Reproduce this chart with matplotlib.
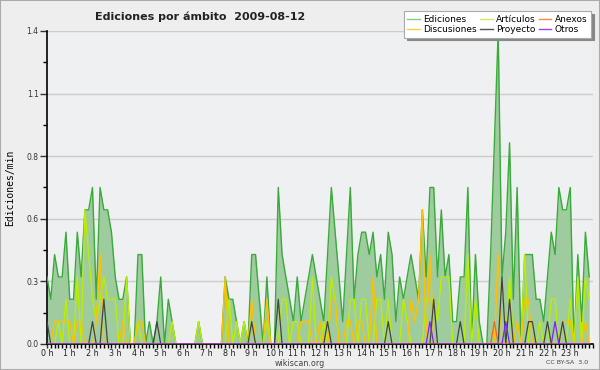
import numpy as np
import matplotlib
matplotlib.use("Agg")
import matplotlib.pyplot as plt

# ================================ Data ================================ #
# edits per minute, one value per 10-minute slot (144 slots = 24 h)

n_slots = 144
hour_labels = ["%d h" % h for h in range(24)]

ediciones = [
    0.3, 0.2, 0.4, 0.3, 0.3, 0.5, 0.2, 0.2, 0.5, 0.3, 0.6, 0.6,
    0.7, 0.2, 0.7, 0.6, 0.6, 0.5, 0.3, 0.2, 0.2, 0.3, 0.0, 0.0,
    0.4, 0.4, 0.0, 0.1, 0.0, 0.1, 0.3, 0.0, 0.2, 0.1, 0.0, 0.0,
    0.0, 0.0, 0.0, 0.0, 0.1, 0.0, 0.0, 0.0, 0.0, 0.0, 0.0, 0.3,
    0.2, 0.2, 0.1, 0.0, 0.1, 0.0, 0.4, 0.4, 0.2, 0.0, 0.3, 0.0,
    0.0, 0.7, 0.4, 0.3, 0.2, 0.1, 0.3, 0.1, 0.2, 0.3, 0.4, 0.3,
    0.2, 0.1, 0.4, 0.7, 0.5, 0.3, 0.1, 0.4, 0.7, 0.2, 0.4, 0.5,
    0.5, 0.4, 0.5, 0.3, 0.4, 0.2, 0.5, 0.4, 0.1, 0.3, 0.2, 0.3,
    0.4, 0.3, 0.2, 0.6, 0.3, 0.7, 0.7, 0.3, 0.6, 0.3, 0.4, 0.1,
    0.1, 0.3, 0.3, 0.7, 0.0, 0.4, 0.1, 0.0, 0.0, 0.4, 0.9, 1.4,
    0.3, 0.5, 0.9, 0.2, 0.7, 0.0, 0.4, 0.4, 0.4, 0.2, 0.2, 0.1,
    0.3, 0.5, 0.4, 0.7, 0.6, 0.6, 0.7, 0.0, 0.4, 0.1, 0.5, 0.3,
]

# sparse series: slot -> value, everything else is 0
articulos_pts = {
    3: 0.1, 5: 0.2, 8: 0.3, 10: 0.6, 11: 0.4, 12: 0.2, 13: 0.1, 14: 0.2,
    15: 0.3, 16: 0.2, 17: 0.2, 18: 0.2, 21: 0.3, 24: 0.1, 33: 0.1, 40: 0.1,
    48: 0.2, 50: 0.1, 52: 0.1, 58: 0.1, 62: 0.2, 63: 0.2, 65: 0.1, 66: 0.1,
    70: 0.3, 73: 0.1, 75: 0.3, 76: 0.2, 80: 0.2, 81: 0.2, 83: 0.2, 84: 0.2,
    87: 0.2, 88: 0.2, 90: 0.2, 94: 0.2, 95: 0.1, 100: 0.2, 101: 0.2, 102: 0.2,
    103: 0.1, 104: 0.3, 105: 0.3, 106: 0.3, 111: 0.4, 113: 0.2, 122: 0.3,
    126: 0.4, 130: 0.1, 133: 0.2, 134: 0.2, 138: 0.2, 140: 0.3, 142: 0.3,
    143: 0.2,
}
discusiones_pts = {
    2: 0.1, 3: 0.1, 4: 0.1, 5: 0.1, 6: 0.1, 8: 0.1, 9: 0.1, 13: 0.1, 14: 0.4,
    20: 0.1, 24: 0.1, 25: 0.1, 47: 0.3, 54: 0.2, 58: 0.2, 67: 0.1, 68: 0.1,
    69: 0.1, 72: 0.1, 75: 0.2, 76: 0.2, 79: 0.1, 80: 0.1, 82: 0.1, 83: 0.1,
    86: 0.3, 96: 0.2, 97: 0.1, 98: 0.2, 99: 0.6, 101: 0.4, 119: 0.4,
    124: 0.1, 126: 0.2, 127: 0.2, 136: 0.1, 137: 0.1, 138: 0.1, 142: 0.1,
}
proyecto_pts = {
    0: 0.1, 12: 0.1, 15: 0.2, 29: 0.1, 54: 0.1, 61: 0.2, 74: 0.1, 90: 0.1,
    102: 0.2, 109: 0.1, 120: 0.3, 122: 0.2, 127: 0.1, 128: 0.1, 132: 0.1,
    136: 0.1,
}
anexos_pts = {118: 0.1}
otros_pts = {101: 0.1, 121: 0.1, 134: 0.1}


def expand(pts):
    arr = np.zeros(n_slots)
    for k, v in pts.items():
        arr[k] = v
    return arr


x = np.arange(n_slots)
ediciones = np.array(ediciones)
articulos = expand(articulos_pts)
discusiones = expand(discusiones_pts)
proyecto = expand(proyecto_pts)
anexos = expand(anexos_pts)
otros = expand(otros_pts)

# ================================ Figure ================================ #

bg = "#eeeeee"
fig = plt.figure(figsize=(6, 3.7), dpi=100, facecolor=bg)
fig.patches.append(plt.Rectangle((0, 0), 1, 1, transform=fig.transFigure,
                                 fill=False, edgecolor="#aaaaaa", lw=1.5))
ax = fig.add_axes([0.0783, 0.0703, 0.91, 0.846])
ax.set_facecolor("#eff0f1")

ax.fill_between(x, 0, ediciones, color="#9ecc9e", lw=0, zorder=2)
ax.plot(x, ediciones, color="#3aaa3a", lw=1.0, zorder=3)
ax.plot(x, articulos, color="#bbee00", lw=1.0, zorder=4)
ax.plot(x, discusiones, color="#ffc000", lw=1.0, zorder=5)
ax.plot(x, proyecto, color="#444444", lw=0.9, zorder=6)
ax.plot(x, anexos, color="#ff6020", lw=0.9, zorder=7)
ax.plot(x, otros, color="#8020ff", lw=0.9, zorder=8)

ymax = ediciones.max()
ax.set_xlim(0, n_slots)
ax.set_ylim(0, ymax)

major = np.linspace(0, ymax, 6)
ax.set_yticks(major)
ax.set_yticklabels(["%.1f" % v for v in major])
ax.set_yticks((major[:-1] + major[1:]) / 2, minor=True)
ax.yaxis.grid(True, color="#cccccc", lw=1, zorder=0)
ax.set_axisbelow(True)

ax.set_xticks(np.arange(0, n_slots, 6))
ax.set_xticklabels(hour_labels)
ax.set_xticks(np.arange(0, n_slots + 1, 1), minor=True)

for side in ["top", "right"]:
    ax.spines[side].set_visible(False)
ax.spines["left"].set_linewidth(1.2)
ax.spines["bottom"].set_linewidth(1.2)
ax.tick_params(axis="y", which="major", length=5, width=1, labelsize=5.5,
               pad=1, colors="#333333")
ax.tick_params(axis="y", which="minor", length=3, width=1)
ax.tick_params(axis="x", which="major", length=3, width=1, labelsize=5.8,
               pad=0.5, colors="#333333")
ax.tick_params(axis="x", which="minor", length=3, width=1)
for lab in ax.get_xticklabels():
    lab.set_color("#222222")

ax.set_ylabel("Ediciones/min", fontsize=7, labelpad=8,
              family="DejaVu Sans Mono")

fig.text(0.333, 0.955, "Ediciones por ámbito  2009-08-12", ha="center",
         va="center", fontsize=8, fontweight="bold", color="#222222")
fig.text(0.5, 0.018, "wikiscan.org", ha="center", va="center", fontsize=5.8,
         color="#444444")
fig.text(0.98, 0.02, "CC BY-SA  3.0", ha="right", va="center", fontsize=4.5,
         color="#444444")

# ================================ Legend ================================ #

handles = [
    plt.Line2D([], [], color="#88cc88", lw=1),
    plt.Line2D([], [], color="#ffcc44", lw=1),
    plt.Line2D([], [], color="#ccee66", lw=1),
    plt.Line2D([], [], color="#555555", lw=1),
    plt.Line2D([], [], color="#ff8844", lw=1),
    plt.Line2D([], [], color="#9944ee", lw=1),
]
names = ["Ediciones", "Discusiones", "Artículos", "Proyecto", "Anexos", "Otros"]
leg = fig.legend(handles, names, ncol=3, loc="upper right",
                 bbox_to_anchor=(0.985, 0.97), fontsize=6.5, frameon=True,
                 fancybox=False, shadow={"color": "#888888", "alpha": 1},
                 handlelength=1.4, handletextpad=0.4, columnspacing=0.3,
                 labelspacing=0.15, borderpad=0.4, borderaxespad=0)
leg.get_frame().set_edgecolor("#aaaaaa")
leg.get_frame().set_linewidth(0.8)

fig.savefig("out.png", dpi=100, facecolor=bg)
